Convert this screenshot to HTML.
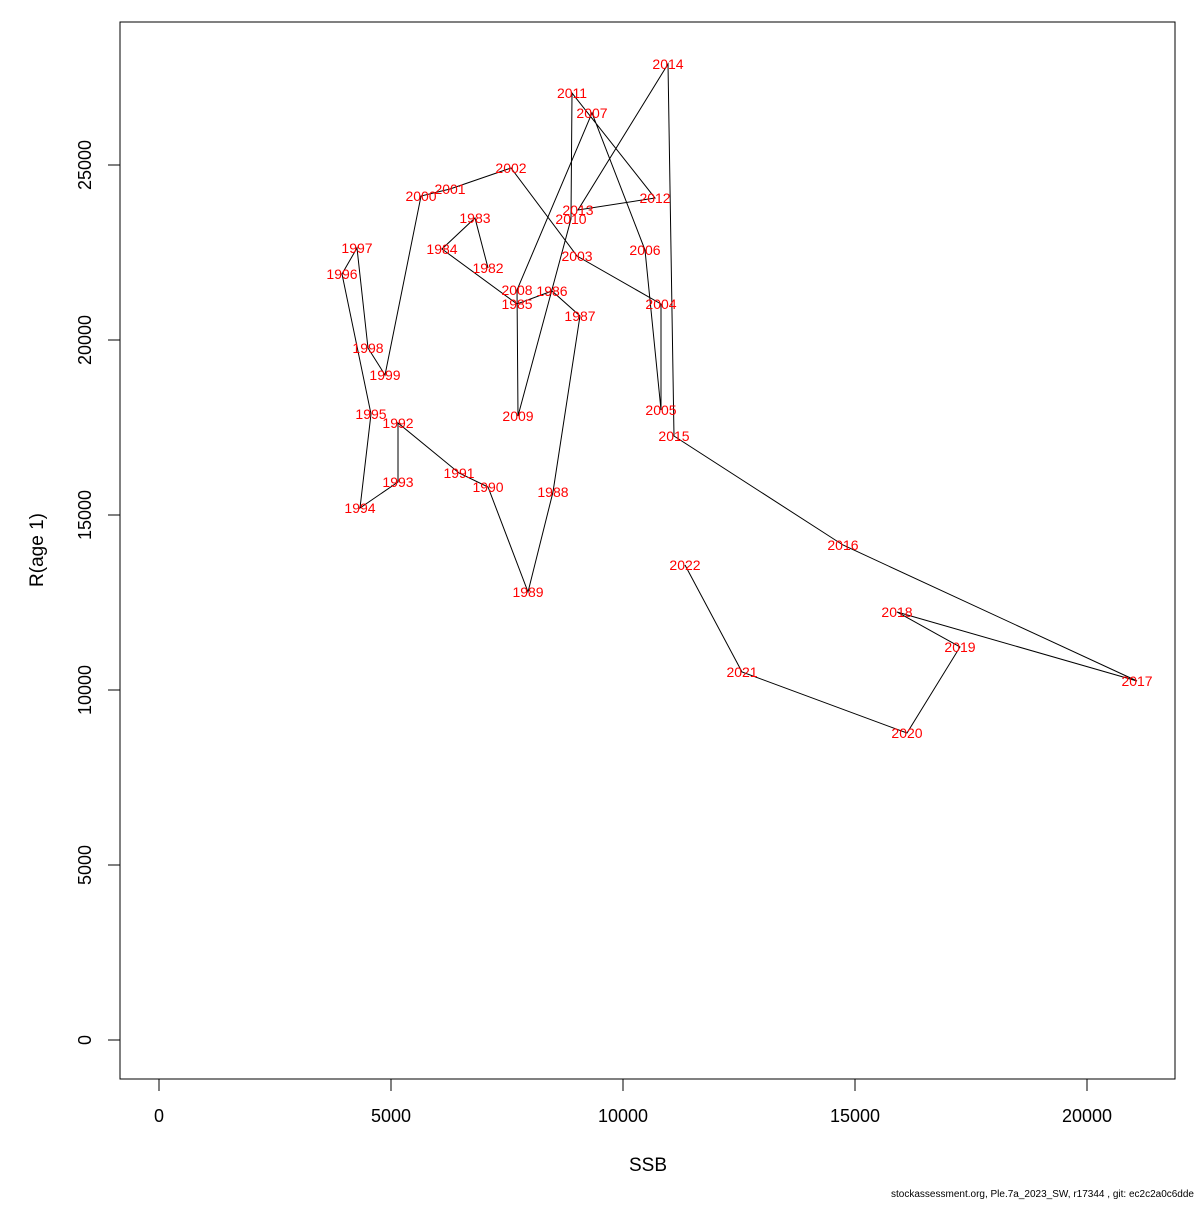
<!DOCTYPE html>
<html><head><meta charset="utf-8"><style>
body{margin:0;background:#fff;font-family:"Liberation Sans",sans-serif;}
</style></head><body>
<svg id="chart" width="1200" height="1200" xmlns="http://www.w3.org/2000/svg" font-family="Liberation Sans, sans-serif">
<rect x="0" y="0" width="1200" height="1200" fill="#fff"/>
<rect x="120" y="22" width="1055" height="1057" fill="none" stroke="#000"/>
<g id="axes"></g>
<g id="series"></g>
<text x="648" y="1171" font-size="19" text-anchor="middle">SSB</text>
<text transform="translate(43,550) rotate(-90)" font-size="19" text-anchor="middle">R(age 1)</text>
<text x="1194" y="1197" font-size="10" text-anchor="end">stockassessment.org, Ple.7a_2023_SW, r17344 , git: ec2c2a0c6dde</text>
</svg>
<script>
const years=[1982,1983,1984,1985,1986,1987,1988,1989,1990,1991,1992,1993,1994,1995,1996,1997,1998,1999,2000,2001,2002,2003,2004,2005,2006,2007,2008,2009,2010,2011,2012,2013,2014,2015,2016,2017,2018,2019,2020,2021,2022];
const ssb=[7091,6810,6099,7716,8470,9073,8491,7953,7091,6466,5151,5151,4332,4569,3944,4267,4504,4871,5647,6272,7586,9009,10819,10819,10474,9332,7716,7737,8879,8901,10690,9030,10970,11099,14741,21078,15905,17263,16121,12565,11336];
const rec=[22057,23486,22600,21029,21400,20686,15657,12800,15800,16200,17629,15943,15200,17886,21886,22629,19771,19000,24114,24314,24914,22400,21029,18000,22571,26486,21429,17829,23457,27057,24057,23714,27886,17257,14143,10257,12229,11229,8771,10514,13571];
const xTicks=[0,5000,10000,15000,20000];
const yTicks=[0,5000,10000,15000,20000,25000];
const NS="http://www.w3.org/2000/svg";
const sx=v=>159+v*0.0464, sy=v=>1040-v*0.035;
const axes=document.getElementById('axes'), series=document.getElementById('series');
function mk(tag,attrs,parent){const e=document.createElementNS(NS,tag);for(const k in attrs)e.setAttribute(k,attrs[k]);parent.appendChild(e);return e;}
mk('line',{x1:sx(0),x2:sx(20000),y1:1079,y2:1079,stroke:'#000'},axes);
xTicks.forEach(t=>{const l=mk('line',{x1:sx(t),x2:sx(t),y1:1079,y2:1091,stroke:'#000'},axes);


const tx=mk('text',{x:sx(t),y:1122,'font-size':18,'text-anchor':'middle'},axes);tx.textContent=t;

});
mk('line',{x1:120,x2:120,y1:sy(0),y2:sy(25000),stroke:'#000'},axes);
yTicks.forEach(t=>{const l=mk('line',{x1:108,x2:120,y1:sy(t),y2:sy(t),stroke:'#000'},axes);


const tx=mk('text',{transform:`translate(91,${sy(t)}) rotate(-90)`,'font-size':18,'text-anchor':'middle'},axes);tx.textContent=t;

});
const pl=mk('polyline',{points:ssb.map((v,i)=>sx(v)+','+sy(rec[i])).join(' '),fill:'none',stroke:'#000','stroke-width':1},series);


years.forEach((y,i)=>{const t=mk('text',{x:sx(ssb[i]),y:sy(rec[i])+5,'font-size':14,fill:'#ff0000','text-anchor':'middle'},series);t.textContent=y;

});
</script>
</body></html>
